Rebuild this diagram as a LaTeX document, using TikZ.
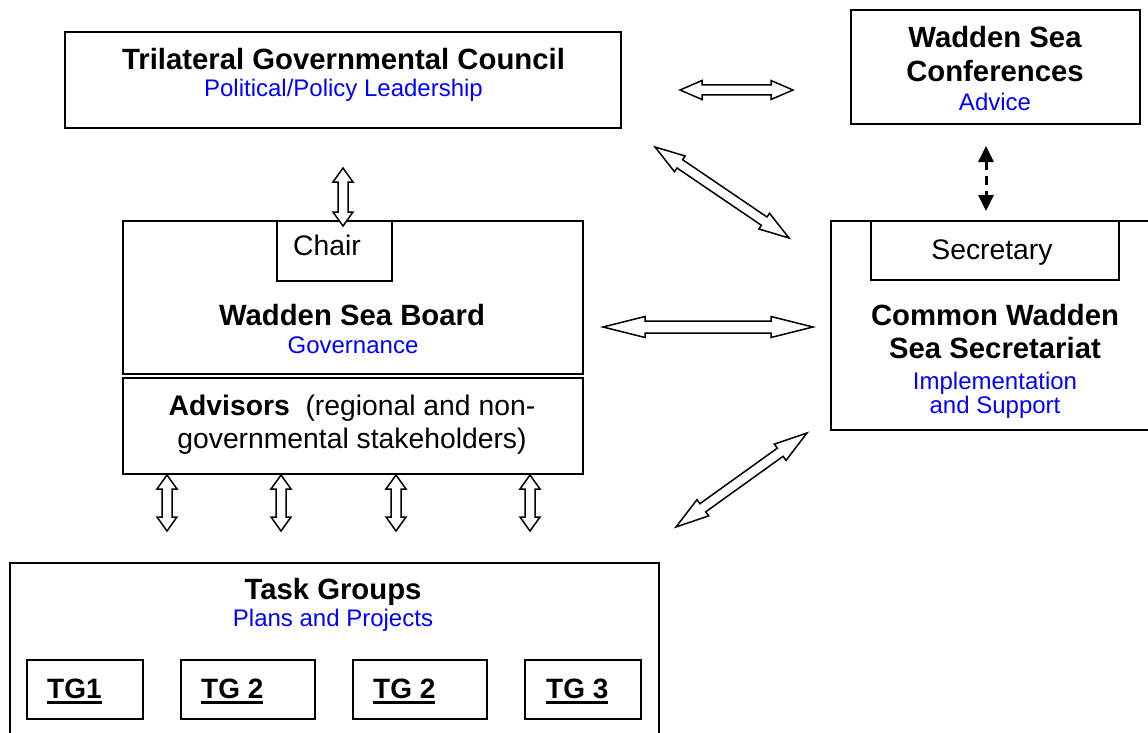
\documentclass[tikz,border=0pt]{standalone}
\usepackage{fontspec}
\setmainfont{Liberation Sans}
\usetikzlibrary{calc,arrows.meta}
\definecolor{subblue}{RGB}{0,0,255}
% hollow double block arrow between two named coordinates
% #1 start, #2 end, #3 head length, #4 head half width, #5 shaft half width
\newcommand{\hollowarrow}[5]{%
  \draw[blockarrow] (#1)
    -- ($(#1)!#3!(#2)!#4!90:(#2)$)
    -- ($(#1)!#3!(#2)!#5!90:(#2)$)
    -- ($(#2)!#3!(#1)!#5!-90:(#1)$)
    -- ($(#2)!#3!(#1)!#4!-90:(#1)$)
    -- (#2)
    -- ($(#2)!#3!(#1)!#4!90:(#1)$)
    -- ($(#2)!#3!(#1)!#5!90:(#1)$)
    -- ($(#1)!#3!(#2)!#5!-90:(#2)$)
    -- ($(#1)!#3!(#2)!#4!-90:(#2)$)
    -- cycle;}
\newcommand{\tgul}[1]{\setbox0\hbox{#1}\rlap{\rule[-6pt]{\wd0}{3pt}}\box0}
\begin{document}
\begin{tikzpicture}[x=1pt,y=-1pt,
  box/.style={draw, line width=1.8pt, anchor=north west, inner sep=0pt, outer sep=0pt},
  ttl/.style={font=\fontsize{29.3}{34}\selectfont\bfseries, anchor=base, inner sep=0pt},
  reg/.style={font=\fontsize{28.3}{33}\selectfont, anchor=base, inner sep=0pt},
  sub/.style={text=subblue, font=\fontsize{24}{26}\selectfont, anchor=base, inner sep=0pt},
  tglabel/.style={font=\fontsize{28}{33}\selectfont\bfseries, anchor=base west, inner sep=0pt},
  blockarrow/.style={draw, line width=1.5pt, fill=white, line join=miter},
  dasharrow/.style={line width=3pt, dash pattern=on 9pt off 6pt,
    arrows={Triangle[width=15pt,length=16pt]-Triangle[width=15pt,length=16pt]}},
]
\useasboundingbox (0,0) rectangle (1148,733);
\clip (0,0) rectangle (1148,733);

% ---------- boxes ----------
\node[box, minimum width=556, minimum height=96] (tgc) at (65,32) {};
\node[box, minimum width=289, minimum height=114] (wsc) at (851,10) {};
\node[box, minimum width=460, minimum height=153] (wsb) at (123,221) {};
\node[box, minimum width=115, minimum height=60] (chair) at (277,221) {};
\node[box, minimum width=460, minimum height=96] (adv) at (123,378) {};
\node[box, minimum width=322, minimum height=209] (cwss) at (831,221) {};
\node[box, minimum width=248, minimum height=59] (secr) at (871,221) {};
\node[box, minimum width=649, minimum height=185] (tg) at (10,563) {};
\node[box, minimum width=116, minimum height=59] (tg1) at (27,660) {};
\node[box, minimum width=134, minimum height=59] (tg2) at (181,660) {};
\node[box, minimum width=134, minimum height=59] (tg2b) at (353,660) {};
\node[box, minimum width=116, minimum height=59] (tg3) at (525,660) {};

% ---------- texts ----------
\node[ttl] (tgct) at (343.5,70) {Trilateral Governmental Council};
\node[sub] (tgcs) at (343.5,97) {Political/Policy Leadership};

\node[ttl] (wsct1) at (995,48) {Wadden Sea};
\node[ttl] (wsct2) at (995,82) {Conferences};
\node[sub] (wscs) at (995,111) {Advice};

\node[reg] (chairt) at (327,255) {Chair};
\node[ttl] (wsbt) at (352,325) {Wadden Sea Board};
\node[sub] (wsbs) at (353,353) {Governance};

\node[reg] (advt1) at (352,415) {\textbf{Advisors}\ \ (regional and non-};
\node[reg] (advt2) at (352,448) {governmental stakeholders)};

\node[reg] (secrt) at (992,259) {Secretary};
\node[ttl] (cwsst1) at (995,325) {Common Wadden};
\node[ttl] (cwsst2) at (995,358) {Sea Secretariat};
\node[sub] (cwsss1) at (995,389) {Implementation};
\node[sub] (cwsss2) at (995,413) {and Support};

\node[ttl] (tgt) at (333,599) {Task Groups};
\node[sub] (tgs) at (333,626) {Plans and Projects};

\node[tglabel] (tg1t) at (47,698) {\tgul{TG1}};
\node[tglabel] (tg2t) at (201,698) {\tgul{TG 2}};
\node[tglabel] (tg2bt) at (373,698) {\tgul{TG 2}};
\node[tglabel] (tg3t) at (546,698) {\tgul{TG 3}};

% ---------- arrow end points ----------
\coordinate (a1s) at (680,90);   \coordinate (a1e) at (793,90);
\coordinate (a2s) at (655,147);  \coordinate (a2e) at (789,238);
\coordinate (a3s) at (343,168);  \coordinate (a3e) at (343,226);
\coordinate (a4s) at (603,327);  \coordinate (a4e) at (813,327);
\coordinate (a5s) at (676,527);  \coordinate (a5e) at (807,433);
\coordinate (b1s) at (167,475);  \coordinate (b1e) at (167,531);
\coordinate (b2s) at (281,475);  \coordinate (b2e) at (281,531);
\coordinate (b3s) at (396,475);  \coordinate (b3e) at (396,531);
\coordinate (b4s) at (530,475);  \coordinate (b4e) at (530,531);
\coordinate (d1s) at (986,146);  \coordinate (d1e) at (986,211);

% ---------- arrows ----------
\hollowarrow{a1s}{a1e}{22pt}{9.5pt}{5pt}
\hollowarrow{a2s}{a2e}{30pt}{9.5pt}{5pt}
\hollowarrow{a3s}{a3e}{14pt}{10pt}{5pt}
\hollowarrow{a4s}{a4e}{42pt}{10.5pt}{6pt}
\hollowarrow{a5s}{a5e}{33pt}{10pt}{5pt}
\hollowarrow{b1s}{b1e}{14pt}{10pt}{5pt}
\hollowarrow{b2s}{b2e}{14pt}{10pt}{5pt}
\hollowarrow{b3s}{b3e}{14pt}{10pt}{5pt}
\hollowarrow{b4s}{b4e}{14pt}{10pt}{5pt}
\draw[dasharrow] (d1s) -- (d1e);
\end{tikzpicture}
\end{document}
